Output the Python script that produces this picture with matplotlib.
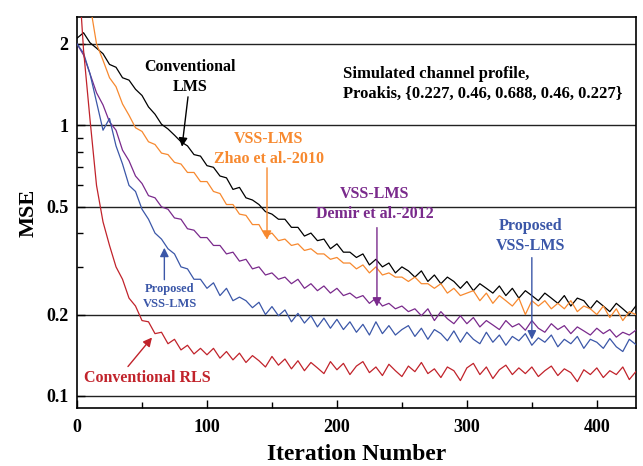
import matplotlib
matplotlib.use("Agg")
import matplotlib.pyplot as plt
from matplotlib.ticker import FixedLocator, FixedFormatter, NullFormatter
import numpy as np

# iteration grid (every 5th iteration)
iterations = np.arange(0, 431, 5)

# MSE, one value per 5 iterations
mse_lms = [2.10, 2.20, 2.02, 1.93, 1.84, 1.68, 1.64, 1.50, 1.47, 1.36,
           1.29, 1.17, 1.10, 1.01, 0.97, 0.92, 0.87, 0.84, 0.78, 0.77,
           0.71, 0.70, 0.65, 0.64, 0.58, 0.59, 0.54, 0.53, 0.51, 0.48,
           0.47, 0.45, 0.45, 0.42, 0.42, 0.39, 0.40, 0.375, 0.38, 0.35,
           0.365, 0.34, 0.34, 0.325, 0.335, 0.305, 0.32, 0.30, 0.31, 0.285,
           0.30, 0.29, 0.275, 0.29, 0.265, 0.28, 0.26, 0.275, 0.265, 0.25,
           0.265, 0.245, 0.26, 0.25, 0.24, 0.255, 0.235, 0.25, 0.23, 0.245,
           0.235, 0.225, 0.24, 0.23, 0.22, 0.235, 0.215, 0.23, 0.225, 0.21,
           0.225, 0.215, 0.205, 0.22, 0.21, 0.20, 0.215]

mse_zhao = [10.0, 5.0, 2.80, 2.00, 1.74, 1.50, 1.39, 1.20, 1.09, 0.98,
            0.95, 0.87, 0.85, 0.79, 0.78, 0.73, 0.72, 0.67, 0.67, 0.62,
            0.62, 0.57, 0.56, 0.51, 0.51, 0.47, 0.465, 0.43, 0.43, 0.39,
            0.40, 0.375, 0.38, 0.36, 0.365, 0.345, 0.35, 0.335, 0.335, 0.32,
            0.325, 0.31, 0.31, 0.295, 0.305, 0.285, 0.30, 0.28, 0.285, 0.275,
            0.275, 0.265, 0.275, 0.26, 0.26, 0.25, 0.26, 0.24, 0.25, 0.235,
            0.24, 0.245, 0.225, 0.24, 0.22, 0.235, 0.225, 0.215, 0.23, 0.20,
            0.225, 0.215, 0.225, 0.21, 0.22, 0.21, 0.225, 0.205, 0.215, 0.21,
            0.20, 0.215, 0.195, 0.21, 0.19, 0.205, 0.20]

mse_demir = [2.00, 1.82, 1.55, 1.32, 1.19, 1.03, 0.96, 0.81, 0.74, 0.65,
             0.61, 0.55, 0.54, 0.50, 0.49, 0.455, 0.45, 0.415, 0.41, 0.385,
             0.385, 0.36, 0.36, 0.335, 0.34, 0.315, 0.32, 0.295, 0.30, 0.28,
             0.285, 0.27, 0.275, 0.26, 0.27, 0.25, 0.26, 0.245, 0.255, 0.24,
             0.25, 0.235, 0.24, 0.23, 0.235, 0.22, 0.23, 0.215, 0.22, 0.21,
             0.215, 0.205, 0.21, 0.198, 0.21, 0.19, 0.205, 0.193, 0.185, 0.198,
             0.185, 0.195, 0.18, 0.19, 0.183, 0.176, 0.19, 0.18, 0.185, 0.175,
             0.19, 0.178, 0.172, 0.185, 0.176, 0.182, 0.17, 0.18, 0.174, 0.168,
             0.178, 0.17, 0.176, 0.165, 0.172, 0.168, 0.175]

mse_proposed = [2.00, 1.85, 1.55, 1.22, 0.96, 1.06, 0.84, 0.72, 0.60, 0.57,
                0.49, 0.45, 0.40, 0.38, 0.35, 0.335, 0.30, 0.295, 0.27, 0.27,
                0.25, 0.262, 0.235, 0.25, 0.225, 0.232, 0.225, 0.212, 0.222, 0.20,
                0.214, 0.198, 0.208, 0.188, 0.202, 0.186, 0.198, 0.18, 0.194, 0.178,
                0.192, 0.176, 0.188, 0.172, 0.184, 0.168, 0.188, 0.17, 0.182, 0.168,
                0.176, 0.182, 0.166, 0.178, 0.162, 0.176, 0.17, 0.16, 0.174, 0.158,
                0.172, 0.162, 0.156, 0.172, 0.158, 0.168, 0.154, 0.166, 0.16, 0.17,
                0.154, 0.164, 0.158, 0.168, 0.152, 0.162, 0.156, 0.166, 0.15, 0.162,
                0.158, 0.15, 0.163, 0.152, 0.146, 0.162, 0.155]

mse_rls = [4.50, 1.90, 1.05, 0.60, 0.44, 0.36, 0.30, 0.27, 0.23, 0.215,
           0.19, 0.188, 0.17, 0.172, 0.156, 0.162, 0.148, 0.154, 0.143, 0.15,
           0.142, 0.15, 0.138, 0.146, 0.136, 0.144, 0.133, 0.141, 0.135, 0.128,
           0.14, 0.13, 0.137, 0.126, 0.135, 0.124, 0.133, 0.127, 0.121, 0.134,
           0.125, 0.132, 0.12, 0.129, 0.134, 0.122, 0.128, 0.119, 0.131, 0.124,
           0.118, 0.129, 0.123, 0.133, 0.121, 0.126, 0.117, 0.128, 0.124, 0.114,
           0.127, 0.132, 0.12, 0.128, 0.116, 0.125, 0.13, 0.12, 0.127, 0.121,
           0.128, 0.118, 0.124, 0.129, 0.119, 0.126, 0.122, 0.113, 0.125, 0.12,
           0.127, 0.117, 0.124, 0.12, 0.128, 0.115, 0.123]

y_ticks = [0.1, 0.2, 0.5, 1, 2]
y_tick_labels = ['0.1', '0.2', '0.5', '1', '2']
y_minor = [0.3, 0.4, 0.6, 0.7, 0.8, 0.9]

c_black = '#000000'
c_orange = '#F7892F'
c_purple = '#7A2A8C'
c_blue = '#3B57A8'
c_red = '#C1232B'

plt.rcParams['font.family'] = ['Liberation Serif', 'DejaVu Serif']
plt.rcParams['font.weight'] = 'bold'

fig = plt.figure(figsize=(6.43, 4.66), dpi=100)
ax = fig.add_axes([0.1198, 0.1245, 0.869, 0.839])

ax.set_yscale('log')
for yv in y_ticks:
    ax.axhline(yv, color='#222222', lw=1.0, zorder=1)

ax.plot(iterations, mse_lms, color=c_black, lw=0.9, zorder=3)
ax.plot(iterations, mse_zhao, color=c_orange, lw=0.9, zorder=3)
ax.plot(iterations, mse_demir, color=c_purple, lw=0.9, zorder=3)
ax.plot(iterations, mse_proposed, color=c_blue, lw=0.9, zorder=3)
ax.plot(iterations, mse_rls, color=c_red, lw=0.9, zorder=3)

ax.set_xlim(0, 430)
ax.set_ylim(0.0903, 2.515)

ax.yaxis.set_major_locator(FixedLocator(y_ticks))
ax.yaxis.set_major_formatter(FixedFormatter(y_tick_labels))
ax.yaxis.set_minor_locator(FixedLocator(y_minor))
ax.yaxis.set_minor_formatter(NullFormatter())
ax.set_xticks([0, 100, 200, 300, 400])
ax.set_xticks([50, 150, 250, 350], minor=True)

ax.tick_params(which='both', direction='in', top=False, right=False)
ax.tick_params(which='major', length=6, width=1, labelsize=13, pad=6)
ax.tick_params(axis='x', which='major', pad=8)
ax.tick_params(which='minor', length=4, width=1)
for lab in ax.get_xticklabels() + ax.get_yticklabels():
    lab.set_fontweight('bold')
for sp in ax.spines.values():
    sp.set_linewidth(1.2)

ax.set_xlabel('Iteration Number', fontsize=17, fontweight='bold', labelpad=6)
ax.set_ylabel('MSE', fontsize=16, fontweight='bold', labelpad=6)

txt = dict(fontweight='bold', ha='center', va='center', linespacing=1.35)
arr = dict(arrowstyle='-|>', lw=1.0, mutation_scale=13, shrinkA=0, shrinkB=0)

ax.text(87, 1.51, 'Conventional\nLMS', color=c_black, fontsize=11.5, **txt)
ax.annotate('', xy=(80.8, 0.834), xytext=(85.4, 1.275),
            arrowprops=dict(color=c_black, **arr))

ax.text(204.6, 1.42, 'Simulated channel profile,\nProakis, {0.227, 0.46, 0.688, 0.46, 0.227}',
        color=c_black, fontsize=12, fontweight='bold', ha='left', va='center', linespacing=1.3)

ax.text(147.7, 0.819, 'VSS-LMS\nZhao et al.-2010', color=c_orange, fontsize=11.5, **txt)
ax.annotate('', xy=(146.2, 0.378), xytext=(146.2, 0.697),
            arrowprops=dict(color=c_orange, **arr))

ax.text(229.2, 0.514, 'VSS-LMS\nDemir et al.-2012', color=c_purple, fontsize=11.5, **txt)
ax.annotate('', xy=(230.8, 0.214), xytext=(230.8, 0.419),
            arrowprops=dict(color=c_purple, **arr))

ax.text(349.2, 0.39, 'Proposed\nVSS-LMS', color=c_blue, fontsize=11.5, **txt)
ax.annotate('', xy=(350, 0.1617), xytext=(350, 0.3246),
            arrowprops=dict(color=c_blue, **arr))

ax.text(71.5, 0.234, 'Proposed\nVSS-LMS', color=c_blue, fontsize=9, **txt)
ax.annotate('', xy=(67.2, 0.353), xytext=(67.2, 0.269),
            arrowprops=dict(color=c_blue, **arr))

ax.text(53.8, 0.117, 'Conventional RLS', color=c_red, fontsize=11.5, **txt)
ax.annotate('', xy=(57.7, 0.1645), xytext=(39.2, 0.1285),
            arrowprops=dict(color=c_red, **arr))

fig.savefig('out.png', dpi=100)
